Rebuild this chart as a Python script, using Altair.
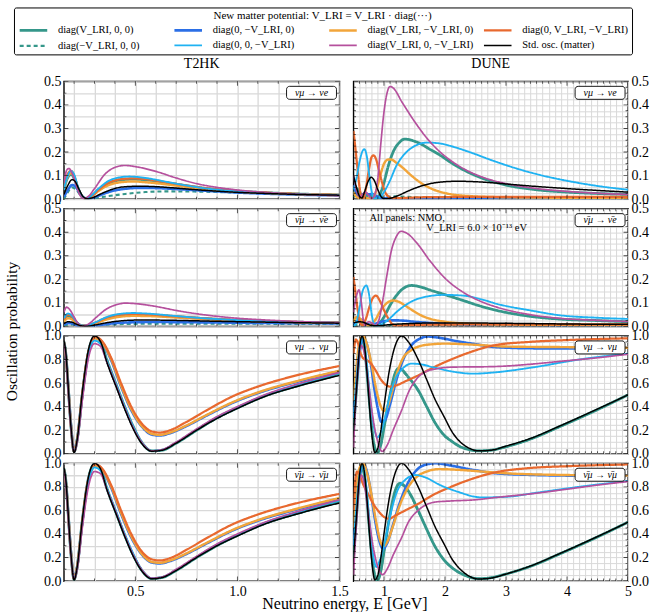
import altair as alt
import pandas as pd

FONT = "Liberation Serif"

# ---------------- series definitions ----------------
SERIES_KEYS = ["teal", "blue", "yellow", "orange", "tealdash", "lightblue", "purple", "black"]
SERIES_LABELS = ["diag(V_LRI, 0, 0)", "diag(0, −V_LRI, 0)", "diag(V_LRI, −V_LRI, 0)",
                 "diag(0, V_LRI, −V_LRI)", "diag(−V_LRI, 0, 0)", "diag(0, 0, −V_LRI)",
                 "diag(V_LRI, 0, −V_LRI)", "Std. osc. (matter)"]
SERIES_COLORS = ["#35978a", "#2b6fe6", "#f2a53a", "#e8692f", "#35978a", "#1fb2f2", "#b5509d", "#000000"]
SERIES_DASHES = [[1, 0], [1, 0], [1, 0], [1, 0], [4, 3], [1, 0], [1, 0], [1, 0]]
SERIES_WIDTHS = [2.8, 1.5, 1.5, 1.5, 1.5, 1.5, 1.5, 1.6]
DRAW_ORDER = ["tealdash", "teal", "blue", "yellow", "orange", "lightblue", "purple", "black"]

# ---------------- T2HK, nu_mu -> nu_e ----------------
T2HK_MUE = {
    "purple": [(0.15, 0.07), (0.165, 0.125), (0.175, 0.13), (0.19, 0.11), (0.21, 0.06), (0.23, 0.015),
               (0.245, 0.003), (0.27, 0.012), (0.3, 0.045), (0.35, 0.105), (0.4, 0.135), (0.45, 0.143),
               (0.5, 0.138), (0.6, 0.118), (0.7, 0.09), (0.8, 0.066), (0.9, 0.05), (1.0, 0.039),
               (1.1, 0.031), (1.2, 0.025), (1.35, 0.019), (1.5, 0.015)],
    "lightblue": [(0.15, 0.04), (0.165, 0.09), (0.185, 0.12), (0.2, 0.105), (0.22, 0.05), (0.24, 0.012),
                  (0.255, 0.004), (0.28, 0.012), (0.32, 0.045), (0.37, 0.078), (0.42, 0.092), (0.47, 0.096),
                  (0.55, 0.09), (0.65, 0.074), (0.75, 0.058), (0.85, 0.045), (1.0, 0.033), (1.15, 0.026),
                  (1.3, 0.021), (1.5, 0.017)],
    "orange": [(0.15, 0.05), (0.165, 0.1), (0.185, 0.12), (0.2, 0.1), (0.22, 0.045), (0.24, 0.01),
               (0.255, 0.003), (0.28, 0.01), (0.32, 0.04), (0.37, 0.07), (0.43, 0.085), (0.49, 0.088),
               (0.55, 0.085), (0.65, 0.072), (0.75, 0.058), (0.85, 0.046), (1.0, 0.034), (1.15, 0.027),
               (1.3, 0.022), (1.5, 0.018)],
    "yellow": [(0.15, 0.04), (0.165, 0.09), (0.185, 0.11), (0.2, 0.095), (0.22, 0.045), (0.24, 0.01),
               (0.255, 0.003), (0.28, 0.009), (0.32, 0.035), (0.37, 0.06), (0.43, 0.072), (0.49, 0.075),
               (0.55, 0.072), (0.65, 0.063), (0.75, 0.052), (0.85, 0.042), (1.0, 0.032), (1.15, 0.026),
               (1.3, 0.021), (1.5, 0.017)],
    "teal": [(0.15, 0.04), (0.165, 0.085), (0.185, 0.105), (0.2, 0.09), (0.22, 0.045), (0.24, 0.01),
             (0.255, 0.003), (0.28, 0.01), (0.32, 0.04), (0.37, 0.068), (0.43, 0.082), (0.49, 0.085),
             (0.55, 0.082), (0.65, 0.07), (0.75, 0.057), (0.85, 0.045), (1.0, 0.034), (1.15, 0.027),
             (1.3, 0.022), (1.5, 0.018)],
    "black": [(0.15, 0.02), (0.17, 0.06), (0.19, 0.083), (0.205, 0.075), (0.225, 0.04), (0.245, 0.01),
              (0.265, 0.002), (0.29, 0.006), (0.33, 0.022), (0.38, 0.04), (0.44, 0.052), (0.52, 0.055),
              (0.6, 0.053), (0.7, 0.047), (0.8, 0.04), (0.9, 0.034), (1.0, 0.029), (1.15, 0.024),
              (1.3, 0.02), (1.5, 0.017)],
    "blue": [(0.15, 0.01), (0.17, 0.04), (0.19, 0.06), (0.205, 0.055), (0.225, 0.03), (0.245, 0.008),
             (0.265, 0.002), (0.29, 0.005), (0.33, 0.018), (0.38, 0.033), (0.44, 0.043), (0.53, 0.048),
             (0.6, 0.047), (0.7, 0.043), (0.8, 0.038), (0.9, 0.033), (1.0, 0.028), (1.15, 0.023),
             (1.3, 0.019), (1.5, 0.016)],
    "tealdash": [(0.15, 0.0), (0.17, 0.03), (0.19, 0.05), (0.21, 0.04), (0.235, 0.012), (0.26, 0.002),
                 (0.3, 0.004), (0.36, 0.012), (0.45, 0.022), (0.55, 0.03), (0.65, 0.033), (0.8, 0.032),
                 (1.0, 0.028), (1.2, 0.023), (1.5, 0.017)],
}

# ---------------- T2HK, anti nu_mu -> anti nu_e ----------------
T2HK_MUE_BAR = {
    "purple": [(0.15, 0.06), (0.163, 0.082), (0.18, 0.07), (0.2, 0.04), (0.22, 0.012), (0.24, 0.002),
               (0.27, 0.01), (0.31, 0.04), (0.36, 0.075), (0.41, 0.093), (0.45, 0.099), (0.5, 0.097),
               (0.6, 0.085), (0.7, 0.068), (0.8, 0.054), (0.9, 0.043), (1.0, 0.035), (1.15, 0.027),
               (1.3, 0.021), (1.5, 0.016)],
    "lightblue": [(0.15, 0.035), (0.17, 0.055), (0.19, 0.045), (0.21, 0.022), (0.235, 0.005), (0.26, 0.003),
                  (0.3, 0.016), (0.36, 0.04), (0.42, 0.053), (0.49, 0.057), (0.57, 0.054), (0.7, 0.044),
                  (0.85, 0.034), (1.0, 0.027), (1.2, 0.021), (1.5, 0.016)],
    "orange": [(0.15, 0.03), (0.17, 0.05), (0.19, 0.042), (0.21, 0.02), (0.235, 0.005), (0.26, 0.003),
               (0.3, 0.015), (0.36, 0.038), (0.42, 0.05), (0.49, 0.053), (0.57, 0.051), (0.7, 0.043),
               (0.85, 0.034), (1.0, 0.027), (1.2, 0.021), (1.5, 0.016)],
    "yellow": [(0.15, 0.02), (0.17, 0.035), (0.19, 0.03), (0.21, 0.015), (0.235, 0.004), (0.26, 0.002),
               (0.3, 0.012), (0.36, 0.03), (0.42, 0.041), (0.49, 0.045), (0.57, 0.044), (0.7, 0.038),
               (0.85, 0.031), (1.0, 0.025), (1.2, 0.02), (1.5, 0.015)],
    "teal": [(0.15, 0.025), (0.17, 0.045), (0.19, 0.038), (0.21, 0.018), (0.235, 0.004), (0.26, 0.002),
             (0.3, 0.013), (0.36, 0.034), (0.42, 0.046), (0.49, 0.05), (0.57, 0.048), (0.7, 0.041),
             (0.85, 0.033), (1.0, 0.026), (1.2, 0.02), (1.5, 0.016)],
    "black": [(0.15, 0.012), (0.17, 0.02), (0.19, 0.018), (0.21, 0.01), (0.235, 0.003), (0.26, 0.001),
              (0.3, 0.006), (0.36, 0.016), (0.42, 0.023), (0.5, 0.027), (0.6, 0.027), (0.75, 0.025),
              (0.9, 0.022), (1.1, 0.019), (1.3, 0.016), (1.5, 0.014)],
    "blue": [(0.15, 0.008), (0.17, 0.014), (0.19, 0.013), (0.21, 0.007), (0.24, 0.002), (0.27, 0.001),
             (0.32, 0.006), (0.4, 0.014), (0.5, 0.018), (0.6, 0.019), (0.75, 0.018), (0.9, 0.017),
             (1.1, 0.015), (1.3, 0.014), (1.5, 0.013)],
    "tealdash": [(0.15, 0.005), (0.19, 0.008), (0.24, 0.003), (0.3, 0.005), (0.4, 0.009), (0.5, 0.011),
                 (0.7, 0.012), (0.9, 0.012), (1.2, 0.011), (1.5, 0.01)],
}

# ---------------- T2HK, nu_mu -> nu_mu ----------------
T2HK_MUMU = {
    "black": [(0.15, 0.96), (0.16, 0.85), (0.17, 0.6), (0.185, 0.22), (0.2, 0.01), (0.215, 0.12),
              (0.24, 0.52), (0.27, 0.88), (0.3, 1.0), (0.33, 0.95), (0.36, 0.78), (0.41, 0.55),
              (0.45, 0.37), (0.49, 0.21), (0.53, 0.09), (0.58, 0.022), (0.63, 0.03), (0.7, 0.09),
              (0.8, 0.2), (0.9, 0.3), (1.0, 0.385), (1.14, 0.49), (1.3, 0.575), (1.5, 0.665)],
    "teal": [(0.15, 0.95), (0.16, 0.84), (0.17, 0.6), (0.185, 0.23), (0.2, 0.02), (0.215, 0.12),
             (0.24, 0.5), (0.27, 0.86), (0.3, 0.985), (0.33, 0.95), (0.36, 0.8), (0.41, 0.57),
             (0.45, 0.39), (0.49, 0.23), (0.53, 0.1), (0.58, 0.025), (0.63, 0.03), (0.7, 0.09),
             (0.8, 0.2), (0.9, 0.305), (1.0, 0.39), (1.14, 0.495), (1.3, 0.58), (1.5, 0.675)],
    "tealdash": [(0.15, 0.95), (0.16, 0.845), (0.17, 0.6), (0.185, 0.225), (0.2, 0.015), (0.215, 0.12),
                 (0.24, 0.51), (0.27, 0.87), (0.3, 0.99), (0.33, 0.95), (0.36, 0.79), (0.41, 0.56),
                 (0.45, 0.38), (0.49, 0.22), (0.53, 0.095), (0.58, 0.023), (0.63, 0.03), (0.7, 0.09),
                 (0.8, 0.2), (0.9, 0.302), (1.0, 0.388), (1.14, 0.492), (1.3, 0.578), (1.5, 0.67)],
    "lightblue": [(0.15, 0.95), (0.16, 0.84), (0.17, 0.6), (0.185, 0.23), (0.2, 0.02), (0.215, 0.11),
                  (0.24, 0.48), (0.27, 0.84), (0.3, 0.96), (0.33, 0.93), (0.36, 0.79), (0.41, 0.57),
                  (0.45, 0.39), (0.49, 0.23), (0.53, 0.1), (0.58, 0.025), (0.63, 0.033), (0.7, 0.095),
                  (0.8, 0.205), (0.9, 0.31), (1.0, 0.395), (1.14, 0.5), (1.3, 0.59), (1.5, 0.685)],
    "purple": [(0.15, 0.94), (0.16, 0.82), (0.17, 0.57), (0.185, 0.21), (0.2, 0.02), (0.215, 0.1),
               (0.24, 0.45), (0.27, 0.81), (0.3, 0.935), (0.33, 0.91), (0.36, 0.78), (0.41, 0.56),
               (0.45, 0.38), (0.49, 0.22), (0.53, 0.1), (0.58, 0.025), (0.63, 0.035), (0.7, 0.1),
               (0.8, 0.21), (0.9, 0.315), (1.0, 0.4), (1.14, 0.505), (1.3, 0.595), (1.5, 0.69)],
    "orange": [(0.15, 0.95), (0.16, 0.83), (0.17, 0.6), (0.185, 0.23), (0.2, 0.02), (0.215, 0.12),
               (0.24, 0.5), (0.27, 0.86), (0.305, 0.99), (0.34, 0.95), (0.38, 0.82), (0.43, 0.6),
               (0.48, 0.4), (0.53, 0.26), (0.58, 0.19), (0.62, 0.18), (0.67, 0.2), (0.75, 0.27),
               (0.85, 0.37), (0.98, 0.49), (1.1, 0.57), (1.3, 0.67), (1.5, 0.745)],
    "yellow": [(0.15, 0.95), (0.16, 0.83), (0.17, 0.6), (0.185, 0.23), (0.2, 0.02), (0.215, 0.12),
               (0.24, 0.5), (0.27, 0.86), (0.305, 0.98), (0.34, 0.94), (0.38, 0.81), (0.43, 0.58),
               (0.48, 0.38), (0.53, 0.24), (0.58, 0.17), (0.62, 0.16), (0.67, 0.18), (0.75, 0.24),
               (0.85, 0.33), (0.98, 0.44), (1.1, 0.52), (1.3, 0.62), (1.5, 0.705)],
    "blue": [(0.15, 0.95), (0.16, 0.83), (0.17, 0.6), (0.185, 0.23), (0.2, 0.02), (0.215, 0.12),
             (0.24, 0.5), (0.27, 0.86), (0.305, 0.985), (0.34, 0.94), (0.38, 0.8), (0.43, 0.57),
             (0.48, 0.37), (0.53, 0.235), (0.58, 0.163), (0.62, 0.155), (0.67, 0.175), (0.75, 0.235),
             (0.85, 0.325), (0.98, 0.435), (1.1, 0.515), (1.3, 0.615), (1.5, 0.7)],
}

# ---------------- T2HK, anti nu_mu -> anti nu_mu ----------------
T2HK_MUMU_BAR = {
    "black": [(0.15, 0.96), (0.16, 0.85), (0.17, 0.6), (0.185, 0.22), (0.2, 0.01), (0.215, 0.12),
              (0.24, 0.52), (0.27, 0.88), (0.3, 1.0), (0.33, 0.95), (0.36, 0.78), (0.41, 0.55),
              (0.45, 0.37), (0.49, 0.21), (0.53, 0.09), (0.58, 0.02), (0.63, 0.03), (0.7, 0.09),
              (0.8, 0.2), (0.9, 0.3), (1.0, 0.383), (1.14, 0.488), (1.3, 0.573), (1.5, 0.663)],
    "teal": [(0.15, 0.955), (0.16, 0.845), (0.17, 0.6), (0.185, 0.225), (0.2, 0.015), (0.215, 0.12),
             (0.24, 0.51), (0.27, 0.87), (0.3, 0.99), (0.33, 0.95), (0.36, 0.79), (0.41, 0.56),
             (0.45, 0.38), (0.49, 0.22), (0.53, 0.095), (0.58, 0.022), (0.63, 0.03), (0.7, 0.09),
             (0.8, 0.2), (0.9, 0.302), (1.0, 0.388), (1.14, 0.493), (1.3, 0.578), (1.5, 0.672)],
    "tealdash": [(0.15, 0.955), (0.16, 0.845), (0.17, 0.6), (0.185, 0.225), (0.2, 0.015), (0.215, 0.12),
                 (0.24, 0.51), (0.27, 0.87), (0.3, 0.99), (0.33, 0.95), (0.36, 0.79), (0.41, 0.56),
                 (0.45, 0.38), (0.49, 0.22), (0.53, 0.095), (0.58, 0.022), (0.63, 0.03), (0.7, 0.09),
                 (0.8, 0.2), (0.9, 0.3), (1.0, 0.386), (1.14, 0.49), (1.3, 0.576), (1.5, 0.67)],
    "lightblue": [(0.15, 0.95), (0.16, 0.84), (0.17, 0.6), (0.185, 0.23), (0.2, 0.02), (0.215, 0.11),
                  (0.24, 0.48), (0.27, 0.84), (0.3, 0.965), (0.33, 0.935), (0.36, 0.79), (0.41, 0.57),
                  (0.45, 0.39), (0.49, 0.23), (0.53, 0.1), (0.58, 0.025), (0.63, 0.033), (0.7, 0.095),
                  (0.8, 0.205), (0.9, 0.31), (1.0, 0.393), (1.14, 0.498), (1.3, 0.588), (1.5, 0.683)],
    "purple": [(0.15, 0.94), (0.16, 0.82), (0.17, 0.57), (0.185, 0.21), (0.2, 0.02), (0.215, 0.1),
               (0.24, 0.45), (0.27, 0.8), (0.3, 0.93), (0.33, 0.91), (0.36, 0.78), (0.41, 0.56),
               (0.45, 0.38), (0.49, 0.22), (0.53, 0.1), (0.58, 0.025), (0.63, 0.035), (0.7, 0.1),
               (0.8, 0.21), (0.9, 0.315), (1.0, 0.4), (1.14, 0.503), (1.3, 0.593), (1.5, 0.69)],
    "orange": [(0.15, 0.95), (0.16, 0.83), (0.17, 0.6), (0.185, 0.23), (0.2, 0.02), (0.215, 0.12),
               (0.24, 0.5), (0.27, 0.86), (0.305, 0.99), (0.34, 0.95), (0.38, 0.82), (0.43, 0.6),
               (0.48, 0.4), (0.53, 0.255), (0.58, 0.185), (0.62, 0.175), (0.67, 0.195), (0.75, 0.265),
               (0.85, 0.365), (0.98, 0.485), (1.1, 0.565), (1.3, 0.665), (1.5, 0.74)],
    "yellow": [(0.15, 0.95), (0.16, 0.83), (0.17, 0.6), (0.185, 0.23), (0.2, 0.02), (0.215, 0.12),
               (0.24, 0.5), (0.27, 0.86), (0.305, 0.98), (0.34, 0.94), (0.38, 0.81), (0.43, 0.58),
               (0.48, 0.38), (0.53, 0.235), (0.58, 0.163), (0.62, 0.155), (0.67, 0.175), (0.75, 0.235),
               (0.85, 0.325), (0.98, 0.437), (1.1, 0.517), (1.3, 0.618), (1.5, 0.705)],
    "blue": [(0.15, 0.95), (0.16, 0.83), (0.17, 0.6), (0.185, 0.23), (0.2, 0.02), (0.215, 0.12),
             (0.24, 0.5), (0.27, 0.86), (0.305, 0.985), (0.34, 0.94), (0.38, 0.8), (0.43, 0.57),
             (0.48, 0.37), (0.53, 0.23), (0.58, 0.158), (0.62, 0.15), (0.67, 0.17), (0.75, 0.23),
             (0.85, 0.32), (0.98, 0.432), (1.1, 0.512), (1.3, 0.612), (1.5, 0.7)],
}

# ---------------- DUNE, nu_mu -> nu_e ----------------
DUNE_MUE = {
    "purple": [(0.5, 0.1), (0.55, 0.04), (0.6, 0.01), (0.65, 0.02), (0.7, 0.03), (0.75, 0.015), (0.8, 0.003),
               (0.85, 0.02), (0.9, 0.09), (0.95, 0.24), (1.0, 0.37), (1.05, 0.45), (1.1, 0.478), (1.15, 0.472),
               (1.3, 0.41), (1.5, 0.33), (1.7, 0.26), (1.9, 0.205), (2.1, 0.163), (2.3, 0.13), (2.6, 0.095),
               (3.0, 0.066), (3.5, 0.045), (4.0, 0.033), (4.5, 0.025), (5.0, 0.02)],
    "teal": [(0.5, 0.02), (0.55, 0.045), (0.6, 0.03), (0.65, 0.008), (0.7, 0.01), (0.75, 0.02), (0.8, 0.01),
             (0.85, 0.002), (0.9, 0.008), (0.95, 0.03), (1.0, 0.07), (1.07, 0.14), (1.15, 0.2), (1.25, 0.24),
             (1.34, 0.255), (1.45, 0.25), (1.6, 0.235), (1.75, 0.212), (1.9, 0.19), (2.1, 0.155),
             (2.3, 0.125), (2.6, 0.09), (3.0, 0.06), (3.5, 0.04), (4.0, 0.03), (4.5, 0.024), (5.0, 0.02)],
    "tealdash": [(0.5, 0.01), (0.6, 0.02), (0.7, 0.005), (0.8, 0.01), (0.9, 0.005), (1.0, 0.01), (1.2, 0.012),
                 (1.5, 0.008), (2.0, 0.005), (3.0, 0.004), (5.0, 0.003)],
    "lightblue": [(0.5, 0.04), (0.55, 0.09), (0.6, 0.16), (0.65, 0.205), (0.68, 0.212), (0.72, 0.18),
                  (0.76, 0.1), (0.8, 0.03), (0.84, 0.003), (0.9, 0.005), (0.95, 0.012), (1.0, 0.03),
                  (1.1, 0.08), (1.2, 0.14), (1.35, 0.195), (1.5, 0.225), (1.7, 0.24), (1.9, 0.237),
                  (2.1, 0.225), (2.4, 0.2), (2.8, 0.162), (3.2, 0.128), (3.6, 0.1), (4.0, 0.078),
                  (4.5, 0.056), (5.0, 0.04)],
    "orange": [(0.5, 0.29), (0.53, 0.22), (0.57, 0.12), (0.6, 0.05), (0.63, 0.012), (0.66, 0.005), (0.7, 0.04),
               (0.75, 0.12), (0.8, 0.18), (0.83, 0.186), (0.87, 0.17), (0.92, 0.12), (0.97, 0.07),
               (1.02, 0.03), (1.08, 0.01), (1.15, 0.004), (1.3, 0.005), (1.6, 0.008), (2.0, 0.009),
               (3.0, 0.01), (5.0, 0.01)],
    "yellow": [(0.5, 0.03), (0.55, 0.01), (0.6, 0.005), (0.65, 0.01), (0.7, 0.006), (0.78, 0.003), (0.85, 0.02),
               (0.9, 0.06), (0.95, 0.11), (1.0, 0.15), (1.07, 0.168), (1.12, 0.168), (1.2, 0.155),
               (1.3, 0.135), (1.45, 0.1), (1.6, 0.07), (1.8, 0.042), (2.0, 0.026), (2.4, 0.013),
               (3.0, 0.008), (4.0, 0.006), (5.0, 0.005)],
    "blue": [(0.5, 0.06), (0.55, 0.025), (0.6, 0.01), (0.65, 0.02), (0.7, 0.025), (0.75, 0.02), (0.8, 0.022),
             (0.85, 0.018), (0.9, 0.01), (1.0, 0.004), (1.2, 0.003), (1.6, 0.004), (2.5, 0.004), (5.0, 0.003)],
    "black": [(0.5, 0.1), (0.55, 0.05), (0.6, 0.012), (0.64, 0.005), (0.68, 0.03), (0.74, 0.075), (0.79, 0.093),
              (0.84, 0.08), (0.9, 0.04), (0.95, 0.012), (1.0, 0.002), (1.08, 0.003), (1.2, 0.012),
              (1.4, 0.035), (1.6, 0.055), (1.8, 0.068), (2.0, 0.074), (2.2, 0.076), (2.5, 0.074),
              (2.8, 0.069), (3.2, 0.06), (3.6, 0.052), (4.0, 0.045), (4.5, 0.037), (5.0, 0.03)],
}

# ---------------- DUNE, anti nu_mu -> anti nu_e ----------------
DUNE_MUE_BAR = {
    "purple": [(0.5, 0.06), (0.55, 0.13), (0.59, 0.155), (0.63, 0.1), (0.66, 0.03), (0.69, 0.005), (0.75, 0.02),
               (0.8, 0.015), (0.86, 0.005), (0.92, 0.03), (0.98, 0.11), (1.05, 0.22), (1.12, 0.32),
               (1.2, 0.38), (1.28, 0.404), (1.38, 0.395), (1.53, 0.357), (1.75, 0.28), (2.0, 0.205),
               (2.3, 0.145), (2.6, 0.105), (2.85, 0.082), (3.4, 0.05), (3.9, 0.034), (4.5, 0.026),
               (5.0, 0.021)],
    "teal": [(0.5, 0.01), (0.6, 0.02), (0.7, 0.005), (0.8, 0.005), (0.9, 0.01), (1.0, 0.04), (1.1, 0.09),
             (1.2, 0.13), (1.3, 0.158), (1.45, 0.174), (1.6, 0.168), (1.75, 0.155), (2.0, 0.135),
             (2.3, 0.11), (2.6, 0.085), (2.85, 0.068), (3.4, 0.043), (3.9, 0.031), (4.5, 0.025), (5.0, 0.02)],
    "tealdash": [(0.5, 0.005), (0.7, 0.008), (0.9, 0.004), (1.2, 0.006), (1.6, 0.007), (2.5, 0.006),
                 (5.0, 0.004)],
    "lightblue": [(0.5, 0.0), (0.55, 0.02), (0.6, 0.08), (0.65, 0.15), (0.71, 0.174), (0.76, 0.13),
                  (0.8, 0.05), (0.84, 0.01), (0.9, 0.003), (1.0, 0.015), (1.1, 0.035), (1.2, 0.06),
                  (1.35, 0.09), (1.5, 0.112), (1.7, 0.127), (1.98, 0.134), (2.3, 0.131), (2.6, 0.115),
                  (2.85, 0.096), (3.4, 0.068), (3.9, 0.047), (4.5, 0.037), (5.0, 0.032)],
    "orange": [(0.5, 0.21), (0.53, 0.15), (0.57, 0.07), (0.61, 0.015), (0.65, 0.005), (0.7, 0.03), (0.77, 0.09),
               (0.82, 0.122), (0.87, 0.131), (0.93, 0.11), (1.0, 0.07), (1.08, 0.03), (1.15, 0.008),
               (1.22, 0.004), (1.4, 0.006), (2.0, 0.008), (3.0, 0.009), (5.0, 0.009)],
    "yellow": [(0.5, 0.02), (0.55, 0.04), (0.6, 0.035), (0.65, 0.02), (0.7, 0.008), (0.76, 0.004), (0.85, 0.025),
               (0.95, 0.07), (1.05, 0.1), (1.15, 0.11), (1.25, 0.104), (1.35, 0.088), (1.47, 0.068),
               (1.6, 0.048), (1.75, 0.033), (2.0, 0.02), (2.4, 0.012), (3.0, 0.008), (5.0, 0.006)],
    "blue": [(0.5, 0.01), (0.55, 0.02), (0.6, 0.03), (0.66, 0.025), (0.72, 0.01), (0.8, 0.008), (0.9, 0.015),
             (1.0, 0.022), (1.15, 0.026), (1.3, 0.025), (1.5, 0.02), (1.8, 0.014), (2.2, 0.01), (3.0, 0.007),
             (5.0, 0.005)],
    "black": [(0.5, 0.015), (0.6, 0.02), (0.66, 0.018), (0.75, 0.008), (0.85, 0.003), (0.95, 0.004),
              (1.1, 0.008), (1.4, 0.012), (1.8, 0.015), (2.2, 0.015), (2.8, 0.014), (3.5, 0.012),
              (4.2, 0.01), (5.0, 0.009)],
}

# ---------------- DUNE, nu_mu -> nu_mu ----------------
DUNE_MUMU = {
    "black": [(0.5, 0.2), (0.55, 0.55), (0.6, 0.9), (0.64, 1.0), (0.68, 0.92), (0.72, 0.7), (0.76, 0.42),
              (0.8, 0.17), (0.85, 0.01), (0.9, 0.05), (0.95, 0.2), (1.0, 0.4), (1.1, 0.74), (1.2, 0.94),
              (1.29, 1.0), (1.4, 0.95), (1.56, 0.8), (1.7, 0.63), (1.83, 0.47), (2.0, 0.3), (2.1, 0.2),
              (2.25, 0.1), (2.37, 0.055), (2.55, 0.025), (2.75, 0.03), (3.0, 0.065), (3.4, 0.13),
              (3.9, 0.24), (4.5, 0.38), (5.0, 0.5)],
    "teal": [(0.5, 0.2), (0.55, 0.55), (0.6, 0.88), (0.64, 0.97), (0.68, 0.9), (0.72, 0.7), (0.76, 0.45),
             (0.8, 0.22), (0.85, 0.05), (0.89, 0.005), (0.95, 0.08), (1.0, 0.22), (1.1, 0.5), (1.18, 0.68),
             (1.24, 0.725), (1.3, 0.71), (1.4, 0.65), (1.56, 0.54), (1.7, 0.4), (1.83, 0.27), (2.0, 0.15),
             (2.1, 0.11), (2.25, 0.06), (2.4, 0.035), (2.55, 0.025), (2.75, 0.03), (3.0, 0.06),
             (3.4, 0.125), (3.9, 0.235), (4.5, 0.375), (5.0, 0.5)],
    "tealdash": [(0.5, 0.2), (0.55, 0.55), (0.6, 0.88), (0.64, 0.97), (0.68, 0.9), (0.72, 0.7), (0.76, 0.45),
                 (0.8, 0.22), (0.85, 0.05), (0.89, 0.006), (0.95, 0.08), (1.0, 0.22), (1.1, 0.5),
                 (1.18, 0.675), (1.24, 0.72), (1.3, 0.705), (1.4, 0.645), (1.56, 0.535), (1.7, 0.4),
                 (1.83, 0.27), (2.0, 0.15), (2.1, 0.11), (2.25, 0.06), (2.4, 0.035), (2.55, 0.025),
                 (2.75, 0.03), (3.0, 0.06), (3.4, 0.125), (3.9, 0.235), (4.5, 0.375), (5.0, 0.5)],
    "blue": [(0.5, 0.3), (0.55, 0.6), (0.6, 0.85), (0.66, 0.99), (0.72, 0.93), (0.78, 0.78), (0.84, 0.56),
             (0.9, 0.38), (0.96, 0.27), (1.02, 0.29), (1.1, 0.42), (1.2, 0.62), (1.3, 0.78), (1.45, 0.92),
             (1.6, 0.98), (1.72, 0.995), (1.9, 0.985), (2.2, 0.955), (2.5, 0.93), (2.84, 0.905),
             (3.5, 0.895), (4.2, 0.895), (5.0, 0.9)],
    "yellow": [(0.5, 0.45), (0.55, 0.75), (0.6, 0.95), (0.66, 1.0), (0.72, 0.93), (0.8, 0.75), (0.88, 0.53),
               (0.95, 0.4), (1.0, 0.365), (1.06, 0.4), (1.12, 0.5), (1.2, 0.66), (1.3, 0.8), (1.45, 0.88),
               (1.6, 0.915), (1.8, 0.93), (2.0, 0.935), (2.5, 0.925), (3.0, 0.91), (4.0, 0.905), (5.0, 0.9)],
    "orange": [(0.5, 0.85), (0.54, 0.97), (0.58, 0.93), (0.62, 0.85), (0.66, 0.81), (0.7, 0.8), (0.78, 0.77),
               (0.86, 0.71), (0.95, 0.63), (1.03, 0.585), (1.1, 0.57), (1.2, 0.58), (1.35, 0.615),
               (1.56, 0.665), (1.8, 0.73), (2.1, 0.8), (2.4, 0.86), (2.8, 0.92), (3.4, 0.95), (4.0, 0.965),
               (5.0, 0.98)],
    "lightblue": [(0.5, 0.3), (0.55, 0.65), (0.6, 0.9), (0.65, 0.98), (0.7, 0.85), (0.75, 0.6), (0.8, 0.35),
                  (0.85, 0.19), (0.89, 0.14), (0.94, 0.17), (1.0, 0.27), (1.1, 0.5), (1.2, 0.65), (1.3, 0.72),
                  (1.45, 0.765), (1.6, 0.76), (1.8, 0.735), (2.1, 0.7), (2.46, 0.68), (2.8, 0.69),
                  (3.4, 0.73), (4.2, 0.8), (5.0, 0.85)],
    "purple": [(0.5, 0.05), (0.55, 0.55), (0.6, 0.88), (0.63, 0.92), (0.68, 0.85), (0.75, 0.58), (0.82, 0.3),
               (0.9, 0.1), (0.97, 0.02), (1.05, 0.07), (1.15, 0.2), (1.29, 0.37), (1.4, 0.52), (1.56, 0.65),
               (1.7, 0.7), (1.85, 0.72), (2.1, 0.735), (2.8, 0.74), (3.4, 0.76), (3.9, 0.785), (4.5, 0.815),
               (5.0, 0.845)],
}

# ---------------- DUNE, anti nu_mu -> anti nu_mu ----------------
DUNE_MUMU_BAR = {
    "black": [(0.5, 0.2), (0.55, 0.55), (0.6, 0.9), (0.64, 1.0), (0.68, 0.92), (0.72, 0.7), (0.76, 0.42),
              (0.8, 0.17), (0.85, 0.01), (0.9, 0.05), (0.95, 0.2), (1.0, 0.4), (1.1, 0.74), (1.2, 0.94),
              (1.29, 1.0), (1.4, 0.95), (1.56, 0.8), (1.7, 0.63), (1.83, 0.47), (2.0, 0.3), (2.1, 0.2),
              (2.25, 0.1), (2.37, 0.05), (2.55, 0.018), (2.75, 0.025), (3.0, 0.06), (3.4, 0.128),
              (3.9, 0.238), (4.5, 0.378), (5.0, 0.5)],
    "teal": [(0.5, 0.2), (0.55, 0.55), (0.6, 0.88), (0.63, 0.97), (0.67, 0.92), (0.72, 0.7), (0.76, 0.45),
             (0.8, 0.22), (0.85, 0.05), (0.89, 0.005), (0.95, 0.09), (1.0, 0.25), (1.1, 0.57), (1.18, 0.76),
             (1.26, 0.83), (1.33, 0.81), (1.45, 0.72), (1.56, 0.6), (1.7, 0.44), (1.83, 0.3), (2.0, 0.17),
             (2.15, 0.1), (2.3, 0.055), (2.55, 0.02), (2.75, 0.028), (3.0, 0.06), (3.4, 0.125),
             (3.9, 0.235), (4.5, 0.375), (5.0, 0.5)],
    "tealdash": [(0.5, 0.2), (0.55, 0.55), (0.6, 0.88), (0.63, 0.97), (0.67, 0.92), (0.72, 0.7), (0.76, 0.45),
                 (0.8, 0.22), (0.85, 0.05), (0.89, 0.006), (0.95, 0.09), (1.0, 0.25), (1.1, 0.565),
                 (1.18, 0.755), (1.26, 0.825), (1.33, 0.805), (1.45, 0.715), (1.56, 0.595), (1.7, 0.44),
                 (1.83, 0.3), (2.0, 0.17), (2.15, 0.1), (2.3, 0.055), (2.55, 0.02), (2.75, 0.028),
                 (3.0, 0.06), (3.4, 0.125), (3.9, 0.235), (4.5, 0.375), (5.0, 0.5)],
    "blue": [(0.5, 0.3), (0.55, 0.62), (0.6, 0.88), (0.66, 1.0), (0.72, 0.93), (0.78, 0.77), (0.85, 0.53),
             (0.92, 0.35), (0.985, 0.275), (1.05, 0.32), (1.15, 0.48), (1.25, 0.65), (1.4, 0.84),
             (1.55, 0.95), (1.7, 0.99), (1.85, 1.0), (2.1, 0.98), (2.5, 0.94), (2.84, 0.915), (3.5, 0.9),
             (4.2, 0.895), (5.0, 0.895)],
    "yellow": [(0.5, 0.45), (0.55, 0.78), (0.6, 0.96), (0.66, 1.0), (0.72, 0.92), (0.8, 0.72), (0.88, 0.48),
               (0.94, 0.34), (0.99, 0.295), (1.05, 0.33), (1.15, 0.47), (1.25, 0.63), (1.4, 0.8),
               (1.55, 0.89), (1.7, 0.93), (1.9, 0.95), (2.2, 0.945), (2.6, 0.93), (3.0, 0.915),
               (4.0, 0.9), (5.0, 0.895)],
    "lightblue": [(0.5, 0.3), (0.55, 0.65), (0.6, 0.9), (0.65, 0.98), (0.7, 0.85), (0.75, 0.58), (0.8, 0.32),
                  (0.84, 0.17), (0.875, 0.12), (0.92, 0.16), (1.0, 0.3), (1.1, 0.55), (1.2, 0.74),
                  (1.35, 0.86), (1.52, 0.9), (1.7, 0.875), (1.9, 0.82), (2.2, 0.76), (2.6, 0.71),
                  (3.0, 0.715), (3.5, 0.75), (4.2, 0.8), (5.0, 0.85)],
    "orange": [(0.5, 0.6), (0.53, 0.85), (0.56, 0.93), (0.6, 0.9), (0.66, 0.82), (0.74, 0.74), (0.82, 0.66),
               (0.9, 0.6), (1.0, 0.545), (1.08, 0.53), (1.2, 0.56), (1.35, 0.6), (1.56, 0.656), (1.8, 0.73),
               (2.1, 0.8), (2.4, 0.86), (2.8, 0.92), (3.4, 0.96), (4.0, 0.975), (5.0, 0.99)],
    "purple": [(0.5, 0.05), (0.55, 0.5), (0.6, 0.85), (0.63, 0.9), (0.68, 0.82), (0.75, 0.55), (0.82, 0.3),
               (0.9, 0.12), (0.98, 0.055), (1.05, 0.1), (1.15, 0.22), (1.29, 0.37), (1.4, 0.5), (1.56, 0.6),
               (1.7, 0.65), (1.83, 0.67), (2.1, 0.68), (2.5, 0.69), (2.84, 0.71), (3.4, 0.74), (4.0, 0.78),
               (4.5, 0.815), (5.0, 0.845)],
}

# ---------------- axis tick/grid positions ----------------
T2HK_X_GRID = [round(0.2 + 0.1 * i, 2) for i in range(14)]
DUNE_X_GRID = [round(0.6 + 0.1 * i, 2) for i in range(45)]
Y_GRID_HALF_FINE = [round(0.025 * i, 3) for i in range(21)]
Y_GRID_HALF_COARSE = [round(0.05 * i, 3) for i in range(11)]
Y_GRID_ONE_FINE = [round(0.05 * i, 3) for i in range(21)]
Y_GRID_ONE_COARSE = [round(0.1 * i, 3) for i in range(11)]

PANEL_W_LEFT = 276
PANEL_W_RIGHT = 275
PANEL_H = 118

LEGEND_TITLE = "New matter potential: V_LRI = V_LRI · diag(···)"

LEGEND = alt.Legend(
    title=LEGEND_TITLE, orient="none", legendX=-50, legendY=-74, columns=4, direction="horizontal",
    symbolType="M-2.3,0H2.3", symbolSize=144, symbolStrokeWidth=1.5, symbolOffset=9, gridAlign="all",
    columnPadding=4, rowPadding=2, labelOffset=17, labelFont=FONT, labelFontSize=10.5,
    titleFont=FONT, titleFontSize=11, titleFontWeight="normal", titleAnchor="middle",
    titleColor="black", titleLimit=600, titlePadding=1, labelColor="black", strokeColor="black",
    fillColor="white", cornerRadius=2, padding=3, labelLimit=200, offset=0,
)


def make_frame(curves):
    rows = []
    for key in DRAW_ORDER:
        label = SERIES_LABELS[SERIES_KEYS.index(key)]
        for e, p in curves[key]:
            rows.append({"series": label, "key": key, "E": e, "P": p})
    return pd.DataFrame(rows)


def is_major(v, step):
    return abs(v / step - round(v / step)) < 1e-6


def panel(curves, xdom, xgrid, xmajor, ydom, ygrid, ymajor, yorient, show_xlabels, width,
          box_text, grid_w, title=None, extra_text=None, xtitle=None, ytitle=None):
    df = make_frame(curves)
    fmt = ".1f" if xmajor < 1 else ".0f"
    xlab = (f"abs(datum.value/{xmajor} - round(datum.value/{xmajor})) < 0.001 ? "
            f"format(datum.value, '{fmt}') : ''")
    ylab = (f"abs(datum.value/{ymajor} - round(datum.value/{ymajor})) < 0.001 ? "
            f"format(datum.value, '.1f') : ''")
    xaxis_kw = dict(values=xgrid, labelExpr=xlab, labels=show_xlabels, ticks=False, domain=False,
                    grid=True, gridColor="#d9d9d9", gridWidth=grid_w, labelFlush=False,
                    labelOverlap=False, labelFont=FONT, labelFontSize=14, labelColor="black",
                    labelPadding=3, title=None)
    if xtitle is not None:
        xaxis_kw.update(title=xtitle, titleX=281, titleY=27, titleAlign="center",
                        titleBaseline="alphabetic", titleFont=FONT, titleFontSize=16,
                        titleFontWeight="normal", titleColor="black")
    yaxis_kw = dict(values=ygrid, labelExpr=ylab, orient=yorient, ticks=False, domain=False,
                    grid=True, gridColor="#d9d9d9", gridWidth=grid_w, labelFlush=False,
                    labelOverlap=False, labelFont=FONT, labelFontSize=14, labelColor="black",
                    labelPadding=3, title=None)
    if ytitle is not None:
        yaxis_kw.update(title=ytitle, titleX=-52, titleY=PANEL_H + 4.5, titleAlign="center",
                        titleBaseline="middle", titleAngle=270, titleFont=FONT, titleFontSize=15.5,
                        titleFontWeight="normal", titleColor="black")

    xscale = alt.Scale(domain=xdom, nice=False, zero=False)
    yscale = alt.Scale(domain=ydom, nice=False, zero=False)
    layers = []
    for key in DRAW_ORDER:
        sub = df[df["key"] == key]
        layers.append(
            alt.Chart(sub).mark_line(interpolate="monotone", clip=True).encode(
                x=alt.X("E:Q", scale=xscale, axis=alt.Axis(**xaxis_kw)),
                y=alt.Y("P:Q", scale=yscale, axis=alt.Axis(**yaxis_kw)),
                color=alt.Color("series:N", scale=alt.Scale(domain=SERIES_LABELS, range=SERIES_COLORS),
                                legend=LEGEND),
                strokeDash=alt.StrokeDash("series:N",
                                          scale=alt.Scale(domain=SERIES_LABELS, range=SERIES_DASHES),
                                          legend=LEGEND),
                strokeWidth=alt.StrokeWidth("series:N",
                                            scale=alt.Scale(domain=SERIES_LABELS, range=SERIES_WIDTHS),
                                            legend=LEGEND),
            )
        )
    # inward tick marks on all four edges (half of each tick is clipped away)
    xt = pd.DataFrame({"E": xgrid, "len": [9 if is_major(v, xmajor) else 5 for v in xgrid]})
    yt = pd.DataFrame({"P": ygrid, "len": [9 if is_major(v, ymajor) else 5 for v in ygrid]})
    for ypos in (0, PANEL_H):
        layers.append(alt.Chart(xt).mark_tick(clip=True, color="black", thickness=0.9).encode(
            x=alt.X("E:Q", scale=xscale, axis=alt.Axis(**xaxis_kw)), y=alt.value(ypos),
            size=alt.Size("len:Q", scale=None, legend=None)))
    for xpos in (0, width):
        layers.append(alt.Chart(yt).mark_tick(clip=True, color="black", thickness=0.9).encode(
            y=alt.Y("P:Q", scale=yscale, axis=alt.Axis(**yaxis_kw)), x=alt.value(xpos),
            size=alt.Size("len:Q", scale=None, legend=None)))

    tag = pd.DataFrame({"t": [box_text]})
    box = alt.Chart(tag).mark_rect(fill="white", stroke="black", strokeWidth=0.9, cornerRadius=3).encode(
        x=alt.value(width - 53), x2=alt.value(width - 3), y=alt.value(5), y2=alt.value(18))
    txt = alt.Chart(tag).mark_text(font=FONT, fontSize=10, fontStyle="italic", color="black",
                                   baseline="middle", align="center").encode(
        x=alt.value(width - 28), y=alt.value(11.5), text="t:N")
    layers += [box, txt]
    if extra_text is not None:
        for (tx, ty, s) in extra_text:
            layers.append(alt.Chart(pd.DataFrame({"t": [s]})).mark_text(
                font=FONT, fontSize=10.5, color="black", align="left", baseline="middle").encode(
                x=alt.value(tx), y=alt.value(ty), text="t:N"))
    props = dict(width=width, height=PANEL_H)
    if title is not None:
        props["title"] = alt.TitleParams(title, font=FONT, fontSize=14, fontWeight="normal",
                                         color="black", offset=3, anchor="middle")
    return alt.layer(*layers).properties(**props)


NOTE_LINES = [(16, 9, "All panels: NMO,"), (73, 19.5, "V_LRI = 6.0 × 10⁻¹³ eV")]

panels = [
    panel(T2HK_MUE, [0.15, 1.5], T2HK_X_GRID, 0.5, [0, 0.5], Y_GRID_HALF_COARSE, 0.1, "left", False,
          PANEL_W_LEFT, "νμ → νe", 1.3, title="T2HK"),
    panel(DUNE_MUE, [0.5, 5.0], DUNE_X_GRID, 1, [0, 0.5], Y_GRID_HALF_FINE, 0.1, "right", False,
          PANEL_W_RIGHT, "νμ → νe", 1.0, title="DUNE"),
    panel(T2HK_MUE_BAR, [0.15, 1.5], T2HK_X_GRID, 0.5, [0, 0.5], Y_GRID_HALF_COARSE, 0.1, "left", False,
          PANEL_W_LEFT, "ν̄μ → ν̄e", 1.3, ytitle="Oscillation probability"),
    panel(DUNE_MUE_BAR, [0.5, 5.0], DUNE_X_GRID, 1, [0, 0.5], Y_GRID_HALF_FINE, 0.1, "right", False,
          PANEL_W_RIGHT, "ν̄μ → ν̄e", 1.0, extra_text=NOTE_LINES),
    panel(T2HK_MUMU, [0.15, 1.5], T2HK_X_GRID, 0.5, [0, 1], Y_GRID_ONE_COARSE, 0.2, "left", False,
          PANEL_W_LEFT, "νμ → νμ", 1.3),
    panel(DUNE_MUMU, [0.5, 5.0], DUNE_X_GRID, 1, [0, 1], Y_GRID_ONE_FINE, 0.2, "right", False,
          PANEL_W_RIGHT, "νμ → νμ", 1.0),
    panel(T2HK_MUMU_BAR, [0.15, 1.5], T2HK_X_GRID, 0.5, [0, 1], Y_GRID_ONE_COARSE, 0.2, "left", True,
          PANEL_W_LEFT, "ν̄μ → ν̄μ", 1.3, xtitle="Neutrino energy, E [GeV]"),
    panel(DUNE_MUMU_BAR, [0.5, 5.0], DUNE_X_GRID, 1, [0, 1], Y_GRID_ONE_FINE, 0.2, "right", True,
          PANEL_W_RIGHT, "ν̄μ → ν̄μ", 1.0),
]

chart = alt.concat(*panels, columns=2, spacing={"row": 9.5, "column": 14}, bounds="flush").properties(
    padding={"left": 4, "top": 6, "right": 2, "bottom": 2},
    background="white",
).configure_view(stroke="black", strokeWidth=1.4)

chart.save("out.html", embed_options={"renderer": "svg", "actions": False})
